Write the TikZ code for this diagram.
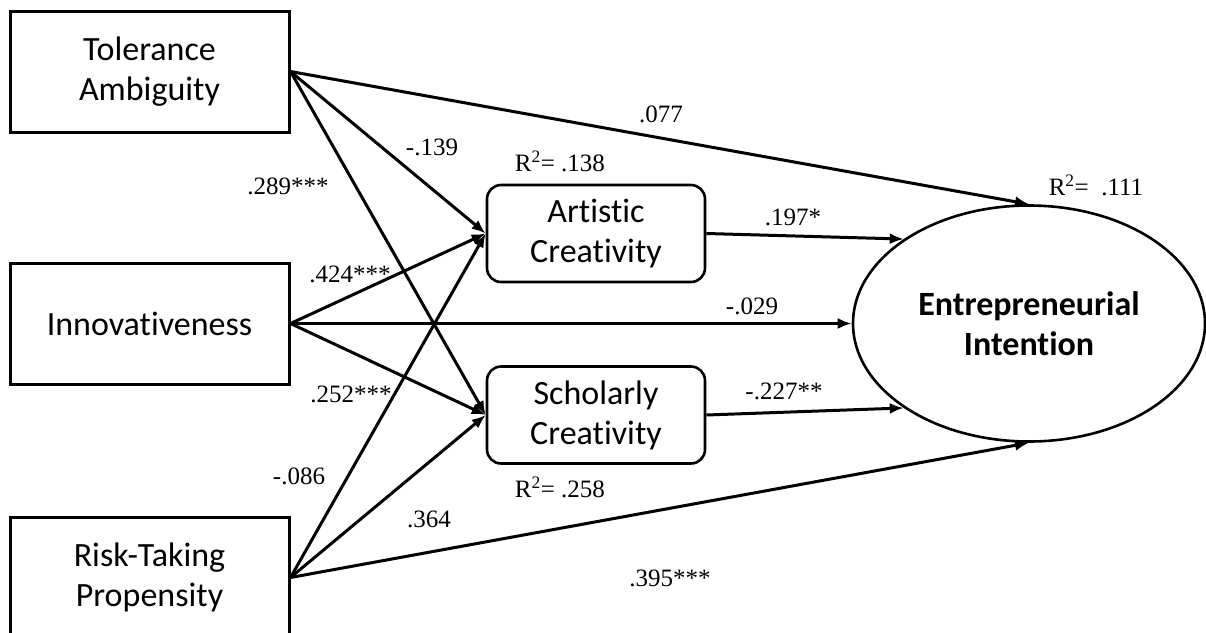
\documentclass[tikz,border=0pt]{standalone}
\usepackage{fontspec}
\setmainfont{Liberation Serif}
\newfontfamily\boxfont[Ligatures=NoCommon]{Carlito}
\usetikzlibrary{arrows.meta,shapes.geometric}
\begin{document}
\begin{tikzpicture}[x=1pt,y=-1pt,
  var/.style={draw, line width=3pt, inner sep=0pt, minimum width=279pt, minimum height=121pt,
    font=\boxfont\fontsize{34}{40}\selectfont, align=center},
  med/.style={draw, line width=2.6pt, rounded corners=14pt, inner sep=0pt, minimum width=218pt,
    minimum height=97pt, font=\boxfont\fontsize{34}{40}\selectfont, align=center},
  dv/.style={draw, ellipse, line width=2.6pt, inner sep=0pt, minimum width=352pt, minimum height=236pt,
    font=\boxfont\bfseries\fontsize{34}{40}\selectfont, align=center},
  pth/.style={line width=3pt, -{Latex[length=14pt,width=11pt]}},
  coef/.style={font=\fontsize{25}{30}\selectfont, inner sep=0pt}
]
\useasboundingbox (0,0) rectangle (1206,632);
\clip (0,0) rectangle (1206,632);

\node[var] (ta) at (149.5,71.5) {Tolerance\\Ambiguity};
\node[var] (in) at (149.5,323.5) {Innovativeness};
\node[var] (rt) at (149.5,577.5) {Risk-Taking\\Propensity};
\node[med] (ac) at (596,233.5) {Artistic\\Creativity};
\node[med] (sc) at (596,415) {Scholarly\\Creativity};
\node[dv] (ei) at (1029,323.5) {Entrepreneurial\\Intention};

\draw[pth] (ta.east) -- (ei.north);
\draw[pth] (ta.east) -- (ac.west);
\draw[pth] (ta.east) -- (sc.west);
\draw[pth] (in.east) -- (ac.west);
\draw[pth] (in.east) -- (ei.west);
\draw[pth] (in.east) -- (sc.west);
\draw[pth] (rt.east) -- (ac.west);
\draw[pth] (rt.east) -- (sc.west);
\draw[pth] (rt.east) -- (ei.south);
\draw[pth] (ac.east) -- (ei.146);
\draw[pth] (sc.east) -- (ei.214);

\node[coef] (l1) at (661,114) {.077};
\node[coef] (l2) at (432,147) {-.139};
\node[coef] (l3) at (288,186) {.289***};
\node[coef] (l4) at (560,161) {R\textsuperscript{2}= .138};
\node[coef] (l5) at (793,217) {.197*};
\node[coef] (l6) at (1096,185) {R\textsuperscript{2}=\ \ .111};
\node[coef] (l7) at (350,274) {.424***};
\node[coef] (l8) at (752,306) {-.029};
\node[coef] (l9) at (351,394) {.252***};
\node[coef] (l10) at (784,391) {-.227**};
\node[coef] (l11) at (560,487) {R\textsuperscript{2}= .258};
\node[coef] (l12) at (299,476) {-.086};
\node[coef] (l13) at (429,519) {.364};
\node[coef] (l14) at (670,578) {.395***};
\end{tikzpicture}
\end{document}
